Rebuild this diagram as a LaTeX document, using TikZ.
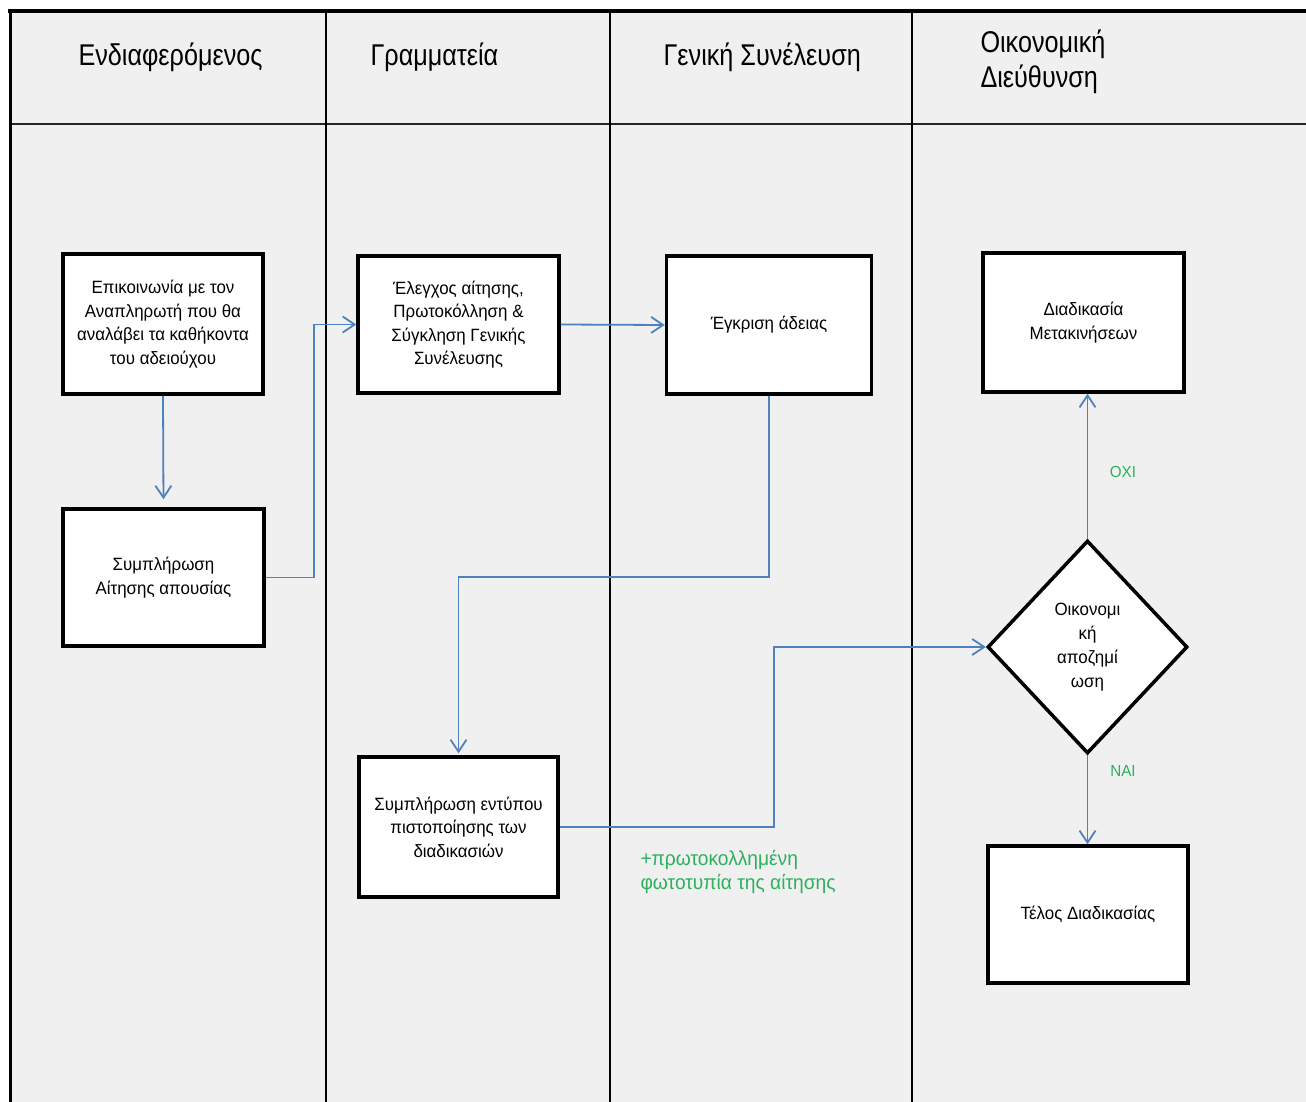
\documentclass[tikz,border=0pt]{standalone}
\usepackage{fontspec}
\setmainfont{Liberation Sans}
\newfontfamily\headfont[FakeStretch=0.84]{Liberation Sans}
\newfontfamily\stepfont[FakeStretch=0.95]{Liberation Sans}
\usetikzlibrary{arrows.meta,shapes.geometric,calc}
\definecolor{lanebg}{HTML}{F0F0F0}
\definecolor{flowblue}{HTML}{4F81BD}
\definecolor{notegreen}{HTML}{2DB05E}

\begin{document}
\begin{tikzpicture}[x=1pt,y=-1pt,
  stepbox/.style={draw=black, line width=3.5pt, fill=white, align=center,
    inner sep=2pt, font=\stepfont\fontsize{17.8}{23.5}\selectfont},
  decision/.style={diamond, draw=black, line width=3.5pt, fill=white,
    align=center, inner sep=0pt, font=\stepfont\fontsize{17.8}{24}\selectfont,
    minimum width=200pt, minimum height=213pt},
  flow/.style={draw=flowblue, line width=1.8pt,
    -{Straight Barb[length=12pt,width=16pt,line width=1.8pt]}},
  lanehead/.style={font=\headfont\fontsize{30}{35}\selectfont, anchor=west, align=left},
  note/.style={text=notegreen, font=\stepfont\fontsize{20.2}{24}\selectfont, align=left},
  lane/.style={line width=1.8pt, black}
]
\useasboundingbox (0,0) rectangle (1306,1102);
\fill[white] (0,0) rectangle (1306,1102);
\fill[lanebg] (10,11) rectangle (1306,1102);

% swimlane frame
\draw[lane, black!85] (10,124) -- (1306,124);
\draw[lane] (326,11) -- (326,1102);
\draw[lane] (610,11) -- (610,1102);
\draw[lane] (912,11) -- (912,1102);
\draw[line width=3.5pt] (8,11) -- (1306,11);
\draw[line width=3pt] (10,9.5) -- (10,1102);

% lane titles
\node[lanehead] (h1) at (75,57) {Ενδιαφερόμενος};
\node[lanehead] (h2) at (367,57) {Γραμματεία};
\node[lanehead] (h3) at (660,57) {Γενική Συνέλευση};
\node[lanehead] (h4) at (977,62) {Οικονομική\\Διεύθυνση};

% process steps
\node[stepbox, minimum width=200pt, minimum height=140pt] (A) at (163,324)
  {Επικοινωνία με τον\\Αναπληρωτή που θα\\αναλάβει τα καθήκοντα\\του αδειούχου};
\node[stepbox, minimum width=201pt, minimum height=137pt] (B) at (163.5,577.5)
  {Συμπλήρωση\\Αίτησης απουσίας};
\node[stepbox, minimum width=201pt, minimum height=137pt] (C) at (458.5,324.5)
  {Έλεγχος αίτησης,\\Πρωτοκόλληση \&\\Σύγκληση Γενικής\\Συνέλευσης};
\node[stepbox, minimum width=205pt, minimum height=138pt] (D) at (769,325)
  {Έγκριση άδειας};
\node[stepbox, minimum width=201pt, minimum height=139pt] (E) at (1083.5,322.5)
  {Διαδικασία\\Μετακινήσεων};
\node[stepbox, minimum width=199pt, minimum height=140pt] (F) at (458.5,827)
  {Συμπλήρωση εντύπου\\πιστοποίησης των\\διαδικασιών};
\node[stepbox, minimum width=200pt, minimum height=137pt] (G) at (1088,914.5)
  {Τέλος Διαδικασίας};
\node[decision] (Q) at (1087.5,647) {Οικονομι\\κή\\αποζημί\\ωση};

% connectors
\draw[flow, shorten >=8pt] (A.south) -- (B.north);
\draw[flow] (B.east) -- ++(48,0) |- (C.west);
\draw[flow] (C.east) -- (D.west);
\draw[flow, shorten >=2pt] (D.south) -- ++(0,181) -| (F.north);
\draw[flow] (F.east) -- ++(214,0) |- (Q.west);
\draw[flow] (Q.north) -- (Q.north |- E.south);
\draw[flow] (Q.south) -- (Q.south |- G.north);

% branch labels and note
\node[note, font=\stepfont\fontsize{16}{18}\selectfont] (no) at (1123,472) {ΟΧΙ};
\node[note, font=\stepfont\fontsize{16}{18}\selectfont] (yes) at (1123,771) {ΝΑΙ};
\node[note, anchor=west] (copy) at (637,872) {+πρωτοκολλημένη\\φωτοτυπία της αίτησης};
\end{tikzpicture}
\end{document}
